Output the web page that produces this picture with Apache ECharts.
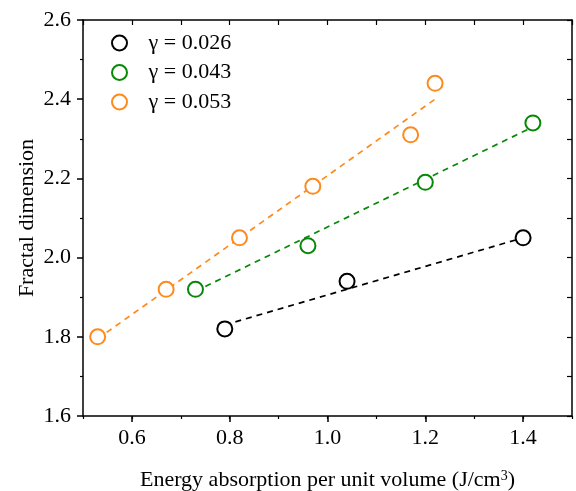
<!DOCTYPE html>
<html>
<head>
<meta charset="utf-8">
<script src="https://cdn.jsdelivr.net/npm/echarts@6/dist/echarts.min.js"></script>
<style>
  html, body { margin: 0; padding: 0; background: #fff; }
  #chart { width: 576px; height: 491px; }
</style>
</head>
<body>
<div id="chart"></div>
<script>
// measured points (x: energy absorption, y: fractal dimension)
var names = ['γ = 0.026', 'γ = 0.043', 'γ = 0.053'];
var colors = ['#000000', '#088808', '#ff8a1c'];

var pts026 = [[0.79, 1.82], [1.04, 1.94], [1.40, 2.05]];
var pts043 = [[0.73, 1.92], [0.96, 2.03], [1.20, 2.19], [1.42, 2.34]];
var pts053 = [[0.53, 1.80], [0.67, 1.92], [0.82, 2.05], [0.97, 2.18], [1.17, 2.31], [1.22, 2.44]];

// fitted lines, endpoints
var fit026 = [[0.79, 1.83], [1.40, 2.05]];
var fit043 = [[0.73, 1.915], [1.42, 2.33]];
var fit053 = [[0.53, 1.795], [1.22, 2.40]];

var xTicks = [0.6, 0.8, 1.0, 1.2, 1.4];
var yTicks = [1.6, 1.8, 2.0, 2.2, 2.4, 2.6];

var font = 'Liberation Serif';
var chart = echarts.init(document.getElementById('chart'));

var pts = [pts026, pts043, pts053];
var fits = [fit026, fit043, fit053];
var series = [];
for (var i = 0; i < 3; i++) {
  series.push({
    name: names[i] + '_fit',
    type: 'line',
    data: fits[i],
    showSymbol: false,
    symbol: 'none',
    silent: true,
    lineStyle: { color: colors[i], width: 1.7, type: [6, 5] },
    z: 1
  });
}
for (var j = 0; j < 3; j++) {
  series.push({
    name: names[j],
    type: 'scatter',
    data: pts[j],
    symbol: 'circle',
    symbolSize: 15,
    itemStyle: { color: '#ffffff', borderColor: colors[j], borderWidth: 2, opacity: 1 },
    z: 3
  });
}

var axisLine = { show: true, onZero: false, lineStyle: { color: '#000', width: 1.5 } };
var labelStyle = { fontFamily: font, fontSize: 22, color: '#000' };

var option = {
  animation: false,
  backgroundColor: '#fff',
  grid: { left: 83, right: 4, top: 20, bottom: 75, containLabel: false, outerBoundsMode: 'none' },
  legend: {
    data: names,
    orient: 'vertical',
    left: 106,
    top: 27,
    itemWidth: 48,
    itemHeight: 15,
    itemGap: 7.5,
    textStyle: labelStyle
  },
  xAxis: [{
    type: 'value',
    min: 0.5, max: 1.5,
    position: 'bottom',
    name: 'Energy absorption per unit volume (J/cm{sup|3})',
    nameLocation: 'middle',
    nameGap: 53,
    nameMoveOverlap: false,
    nameTextStyle: {
      fontFamily: font, fontSize: 22, color: '#000',
      rich: { sup: { fontFamily: font, fontSize: 14, lineHeight: 14, verticalAlign: 'top', padding: [0, 0, 12, 0] } }
    },
    axisLine: axisLine,
    axisTick: { show: true, inside: false, length: 6, customValues: xTicks, lineStyle: { color: '#000', width: 1.5 } },
    axisLabel: {
      margin: 11, fontFamily: font, fontSize: 22, color: '#000',
      customValues: xTicks,
      formatter: function (v) { return v.toFixed(1); }
    },
    splitLine: { show: false }
  }, {
    type: 'value',
    min: 0.5, max: 1.5,
    interval: 0.1,
    position: 'top',
    axisLine: axisLine,
    axisTick: { show: true, inside: true, length: 5, lineStyle: { color: '#000', width: 1.2 } },
    axisLabel: { show: false },
    splitLine: { show: false }
  }, {
    // minor ticks under the bottom axis
    type: 'value',
    min: 0.5, max: 1.5,
    interval: 0.1,
    position: 'bottom',
    offset: 0,
    axisLine: { show: false },
    axisTick: { show: true, inside: false, length: 3, lineStyle: { color: '#000', width: 1.2 } },
    axisLabel: { show: false },
    splitLine: { show: false }
  }],
  yAxis: [{
    type: 'value',
    min: 1.6, max: 2.6,
    interval: 0.2,
    position: 'left',
    name: 'Fractal dimension',
    nameLocation: 'middle',
    nameGap: 45,
    nameMoveOverlap: false,
    nameTextStyle: labelStyle,
    axisLine: axisLine,
    axisTick: { show: true, inside: false, length: 6, lineStyle: { color: '#000', width: 1.5 } },
    minorTick: { show: true, splitNumber: 2, length: 3, lineStyle: { color: '#000', width: 1.2 } },
    axisLabel: {
      margin: 12, fontFamily: font, fontSize: 22, color: '#000',
      formatter: function (v) { return yTicks.indexOf(Math.round(v * 10) / 10) >= 0 ? v.toFixed(1) : ''; }
    },
    splitLine: { show: false }
  }, {
    type: 'value',
    min: 1.6, max: 2.6,
    interval: 0.1,
    position: 'right',
    axisLine: axisLine,
    axisTick: { show: true, inside: true, length: 5, lineStyle: { color: '#000', width: 1.2 } },
    axisLabel: { show: false },
    splitLine: { show: false }
  }],
  series: series
};

chart.setOption(option);
</script>
</body>
</html>
